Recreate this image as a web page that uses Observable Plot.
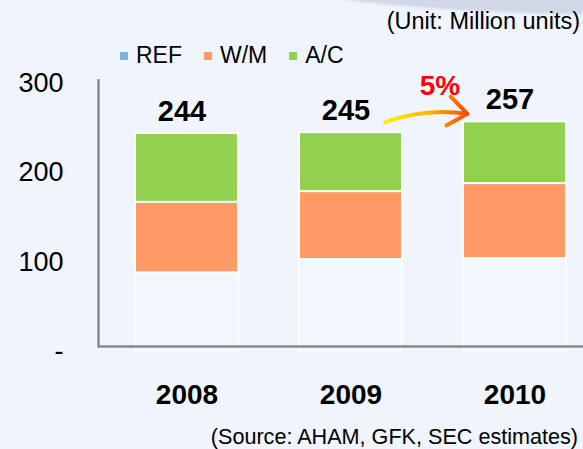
<!DOCTYPE html>
<html>
<head>
<meta charset="utf-8">
<script src="https://cdn.jsdelivr.net/npm/d3@7"></script>
<script src="https://cdn.jsdelivr.net/npm/@observablehq/plot@0.6"></script>
<style>
html, body { margin: 0; padding: 0; background: #f0f4fc; }
#wrap { position: relative; width: 583px; height: 449px; overflow: hidden; background: #f0f4fc;
  font-family: "Liberation Sans", Arial, sans-serif; color: #000; }
#deco { position: absolute; left: 310px; top: -22px; width: 500px; height: 36px; border-radius: 50%;
  background: #d0d7e7; transform: rotate(1.5deg); filter: blur(1.2px); }
#chart { position: absolute; left: 0; top: 0; }
#unit { position: absolute; right: 3px; top: 10px; font-size: 23.5px; line-height: 23.5px; white-space: nowrap; }
#legend { position: absolute; left: 120px; top: 44px; display: flex; align-items: center;
  font-size: 23px; line-height: 23px; white-space: nowrap; }
#legend .item { display: flex; align-items: center; margin-right: 22px; }
#legend .sw { width: 8px; height: 8px; display: inline-block; margin-right: 8px; }
#source { position: absolute; right: 5px; top: 426px; font-size: 21.6px; line-height: 21.6px; white-space: nowrap; }
</style>
</head>
<body>
<div id="wrap">
  <div id="deco"></div>
  <div id="chart"></div>
  <div id="unit">(Unit: Million units)</div>
  <div id="legend"></div>
  <div id="source">(Source: AHAM, GFK, SEC estimates)</div>
</div>
<script>
// ---- data ----
const years = ["2008", "2009", "2010"];
const series = ["REF", "W/M", "A/C"];
const refValues = [88, 103, 104];
const wmValues = [79, 76, 84];
const acValues = [77, 66, 69];
const totals = [244, 245, 257];
const yTicks = [0, 100, 200, 300];
const yTickLabels = ["-", "100", "200", "300"];

// ---- styles ----
const barColors = ["#f2f6fd", "#ff9966", "#92d050"];
const legendColors = ["#7fb3df", "#ff9966", "#92d050"];

// ---- tables ----
const rows = years.flatMap((year, i) => [
  {year, series: series[0], value: refValues[i]},
  {year, series: series[1], value: wmValues[i]},
  {year, series: series[2], value: acValues[i]}
]);
const totalRows = years.map((year, i) => ({year, total: totals[i]}));
const growth = [{
  from: years[1], to: years[2], y1: totals[1], y2: totals[2],
  label: Math.round((totals[2] / totals[1] - 1) * 100) + "%"
}];

// legend (HTML)
const legend = document.getElementById("legend");
series.forEach((s, i) => {
  const item = document.createElement("span");
  item.className = "item";
  const sw = document.createElement("span");
  sw.className = "sw";
  sw.style.background = legendColors[i];
  item.appendChild(sw);
  item.appendChild(document.createTextNode(s));
  legend.appendChild(item);
});

const axisColor = "#8a8a8a";

const svg = Plot.plot({
  width: 583,
  height: 449,
  marginTop: 83,
  marginBottom: 98,
  marginLeft: 98,
  marginRight: 0,
  style: {background: "transparent", fontFamily: "Liberation Sans, Arial, sans-serif", color: "#000", overflow: "visible"},
  x: {domain: years, paddingInner: 0.37, paddingOuter: 0.155, align: 0.69, label: null},
  y: {domain: [0, 300], label: null},
  color: {domain: series, range: barColors},
  marks: [
    Plot.barY(rows, {x: "year", y: "value", fill: "series", stroke: "#fbfcfe", strokeWidth: 2}),
    Plot.ruleY([0], {dy: -5, stroke: axisColor, strokeWidth: 2.5}),
    Plot.frame({anchor: "left", stroke: axisColor, strokeWidth: 2.5, insetTop: -3, insetBottom: 5}),
    Plot.axisY({ticks: yTicks, tickFormat: d => yTickLabels[yTicks.indexOf(d)], tickSize: 0, tickPadding: 35, fontSize: 27}),
    Plot.axisX({tickSize: 0, tickPadding: 33, fontSize: 28, fontWeight: "bold"}),
    Plot.text(totalRows, {x: "year", y: "total", text: d => String(d.total), dx: -5, dy: -22, fontSize: 29, fontWeight: "bold", fill: "#000"}),
    Plot.arrow(growth, {x1: "from", y1: "y1", x2: "to", y2: "y2", bend: 30, insetStart: 38, insetEnd: 50, dy: 7,
      stroke: "url(#arrowGrad)", strokeWidth: 4, headLength: 9, headAngle: 75}),
    Plot.text(growth, {x: "to", y: "y2", text: "label", dx: -75, dy: -36, fontSize: 28, fontWeight: "bold", fill: "#ff0000"})
  ]
});

const grad = d3.select(svg).insert("defs", ":first-child")
  .append("linearGradient").attr("id", "arrowGrad")
  .attr("x1", "0%").attr("y1", "0%").attr("x2", "100%").attr("y2", "0%");
grad.append("stop").attr("offset", "0%").attr("stop-color", "#fff200");
grad.append("stop").attr("offset", "55%").attr("stop-color", "#ffb000");
grad.append("stop").attr("offset", "100%").attr("stop-color", "#ff4a00");

document.getElementById("chart").appendChild(svg);
</script>
</body>
</html>
